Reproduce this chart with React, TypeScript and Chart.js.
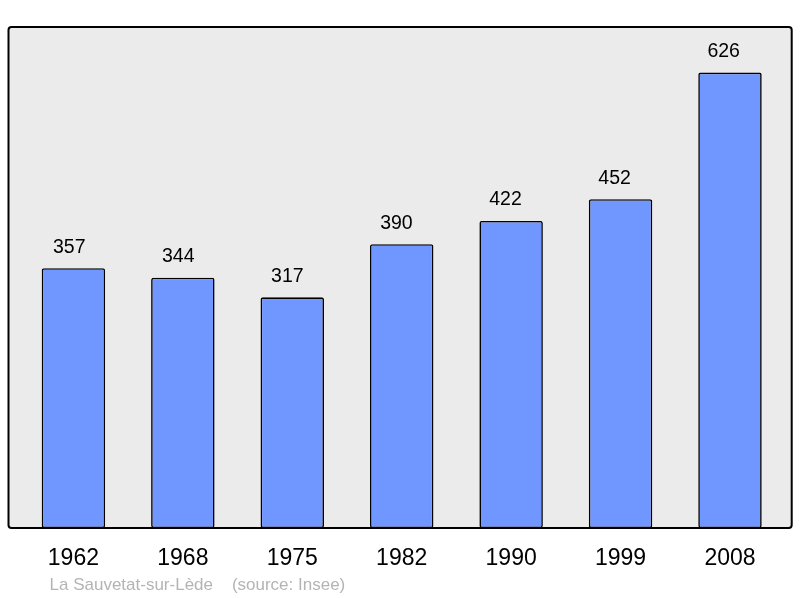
import React, { useEffect, useRef } from "react";
import { Chart, registerables } from "chart.js";

Chart.register(...registerables);

const years = ["1962", "1968", "1975", "1982", "1990", "1999", "2008"];
const population = [357, 344, 317, 390, 422, 452, 626];
const sourceLabel = "La Sauvetat-sur-Lède    (source: Insee)";

const FONT = '"Liberation Sans", Arial, sans-serif';

const framePlugin = {
  id: "frame",
  beforeDatasetsDraw(chart: any) {
    const { ctx, chartArea } = chart;
    const l = chartArea.left - 10.2;
    const r = chartArea.right + 7;
    const t = chartArea.top;
    const b = chartArea.bottom;
    ctx.save();
    ctx.beginPath();
    ctx.roundRect(l, t, r - l, b - t, 3);
    ctx.fillStyle = "#ebebeb";
    ctx.fill();
    ctx.restore();
  },
  afterDatasetsDraw(chart: any) {
    const { ctx, chartArea } = chart;
    const l = chartArea.left - 10.2;
    const r = chartArea.right + 7;
    const t = chartArea.top;
    const b = chartArea.bottom;
    ctx.save();
    ctx.beginPath();
    ctx.roundRect(l, t, r - l, b - t, 3);
    ctx.lineWidth = 2;
    ctx.strokeStyle = "#000";
    ctx.stroke();
    // value labels
    const meta = chart.getDatasetMeta(0);
    ctx.fillStyle = "#000";
    ctx.font = `19.5px ${FONT}`;
    ctx.textAlign = "center";
    ctx.textBaseline = "alphabetic";
    meta.data.forEach((bar: any, i: number) => {
      ctx.fillText(String(population[i]), bar.x - 4.2 - 0.35 * i, bar.y - 15.5);
    });
    // source
    ctx.fillStyle = "#b4b4b4";
    ctx.font = `17px ${FONT}`;
    ctx.textAlign = "left";
    ctx.fillText(sourceLabel, 49.5, 590);
    ctx.restore();
  },
};

export default function App() {
  const ref = useRef<HTMLCanvasElement>(null);
  useEffect(() => {
    if (!ref.current) return;
    const chart = new Chart(ref.current, {
      type: "bar",
      data: {
        labels: years,
        datasets: [
          {
            data: population,
            backgroundColor: "#7096ff",
            borderColor: "#000",
            borderWidth: 1.6,
            borderRadius: 2,
            borderSkipped: false,
            barPercentage: 0.58,
            categoryPercentage: 1,
          },
        ],
      },
      options: {
        responsive: false,
        animation: false,
        layout: { padding: { left: 18.7, right: 15.3, top: 27, bottom: 0 } },
        plugins: { legend: { display: false }, tooltip: { enabled: false } },
        scales: {
          x: {
            grid: { display: false, drawTicks: false },
            border: { display: false },
            ticks: { color: "#000", font: { family: FONT, size: 23 }, padding: 16.5 },
            afterFit(scale: any) {
              scale.height = 70;
            },
          },
          y: {
            display: false,
            min: 0,
            max: 688.6,
          },
        },
      },
      plugins: [framePlugin],
    });
    return () => chart.destroy();
  }, []);
  return (
    <div style={{ position: "fixed", left: 0, top: 0, width: 800, height: 598, background: "#fff" }}>
      <canvas ref={ref} width={800} height={598} />
    </div>
  );
}
